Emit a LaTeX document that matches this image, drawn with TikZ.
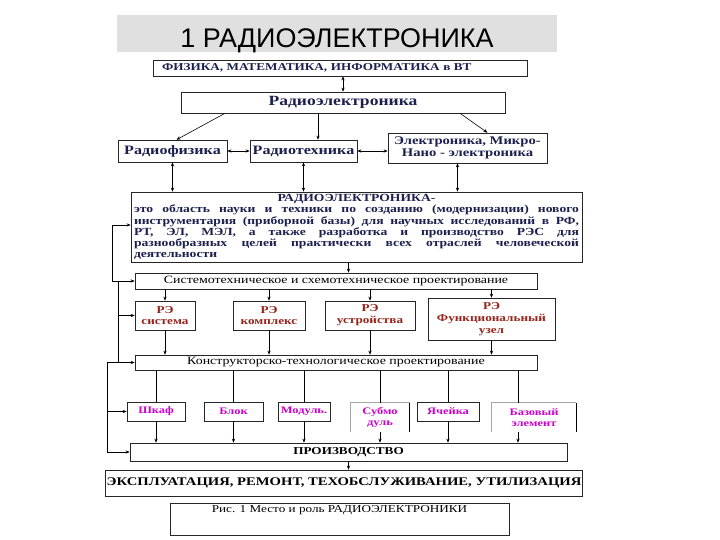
\documentclass[tikz,border=0pt]{standalone}
\usepackage{fontspec}
\setmainfont{Liberation Serif}[FakeStretch=1.25]
\newfontfamily\titlefont{Liberation Sans}
\usetikzlibrary{positioning,arrows.meta,calc}
\newlength\px
\setlength\px{0.03cm}
\definecolor{navytxt}{RGB}{28,32,78}
\definecolor{retxt}{RGB}{150,35,25}
\definecolor{magtxt}{RGB}{205,0,205}
\definecolor{titlegray}{RGB}{224,224,224}

\begin{document}
\begin{tikzpicture}[
  x=0.03cm, y=-0.03cm,
  >={Stealth[length=3.5pt,width=2.8pt]},
  box/.style={draw=black!85, line width=0.5pt, inner sep=1pt, align=center},
  scibox/.style={box, text=navytxt, font=\bfseries\fontsize{11}{11}\selectfont},
  rebox/.style={box, text=retxt, minimum height=29\px, font=\bfseries\fontsize{9}{10}\selectfont},
  lowbox/.style={box, text=magtxt, minimum height=19\px, font=\bfseries\fontsize{8.5}{10}\selectfont},
  openbox/.style={text=magtxt, minimum height=29\px, inner sep=1pt, align=center, font=\bfseries\fontsize{8.5}{10}\selectfont},
  conn/.style={->, line width=0.5pt},
  dbl/.style={<->, line width=0.5pt},
  feed/.style={line width=0.5pt}
]
  \useasboundingbox (0,0) rectangle (720,540);

  \node[fill=titlegray, minimum width=440\px, minimum height=37\px, inner ysep=0pt, text height=24.6pt, text depth=0pt, font=\titlefont\fontsize{23}{26}\selectfont] (title) at (337,33.5) {1 РАДИОЭЛЕКТРОНИКА};

  \node[box, minimum width=374\px, minimum height=16\px, text width=356\px, inner xsep=9\px, align=left, text=navytxt, font=\bfseries\fontsize{9}{10}\selectfont] (phys) at (340,68) {ФИЗИКА, МАТЕМАТИКА, ИНФОРМАТИКА в ВТ};
  \node[box, minimum width=324\px, minimum height=21\px, text=navytxt, font=\bfseries\fontsize{12}{12}\selectfont] (radio) at (343,102.5) {Радиоэлектроника};

  \node[scibox, minimum width=109\px, minimum height=22\px] (rfiz) at (172.5,151) {Радиофизика};
  \node[scibox, minimum width=107\px, minimum height=22\px] (rtech) at (303.5,151) {Радиотехника};
  \node[scibox, minimum width=159\px, minimum height=30\px, font=\bfseries\fontsize{10}{10}\selectfont] (elec) at (467.5,148) {Электроника, Микро-\\Нано - электроника};

  \node[box, minimum width=451\px, minimum height=70\px, text width=445\px, align=justify, text=navytxt, font=\bfseries\fontsize{9.3}{9.5}\selectfont] (defin) at (356.5,227) {{\centering РАДИОЭЛЕКТРОНИКА-\par}\noindent
    это область науки и техники по созданию (модернизации) нового\linebreak
    инструментария (приборной базы) для научных исследований в РФ,\linebreak
    РТ, ЭЛ, МЭЛ, а также разработка и производство РЭС для\linebreak
    разнообразных целей практически всех отраслей человеческой\linebreak
    деятельности};

  \node[box, minimum width=402\px, minimum height=16\px, font=\fontsize{9.5}{10}\selectfont] (sysd) at (336,281) {Системотехническое и схемотехническое проектирование};

  \node[rebox, minimum width=60\px] (resys) at (165,315.5) {РЭ\\система};
  \node[rebox, minimum width=72\px] (recomp) at (269,315.5) {РЭ\\комплекс};
  \node[rebox, minimum width=90\px] (redev) at (370,315.5) {РЭ\\устройства};
  \node[rebox, minimum width=127\px, minimum height=42\px] (refunc) at (491.5,319) {РЭ\\Функциональный\\узел};

  \node[box, minimum width=402\px, minimum height=15\px, font=\fontsize{9.5}{10}\selectfont] (cons) at (336,362.5) {Конструкторско-технологическое проектирование};

  \node[lowbox, minimum width=58\px] (shkaf) at (156,411.5) {Шкаф};
  \node[lowbox, minimum width=59\px] (blok) at (233.5,411.5) {Блок};
  \node[lowbox, minimum width=52\px] (modul) at (304,411.5) {Модуль.};
  \node[openbox, minimum width=59\px] (submod) at (380,417.5) {Субмо\\дуль};
  \node[lowbox, minimum width=62\px] (cell) at (448,411.5) {Ячейка};
  \node[openbox, minimum width=84\px] (base) at (534,417.5) {Базовый\\элемент};
  \draw[black!35, line width=0.5pt] (submod.south west) -- (submod.north west) -- (submod.north east);
  \draw[line width=0.5pt] (submod.north east) -- (submod.south east);
  \draw[black!35, line width=0.5pt] (base.south west) -- (base.north west) -- (base.north east);
  \draw[line width=0.5pt] (base.north east) -- (base.south east);

  \node[box, minimum width=437\px, minimum height=18\px, font=\bfseries\fontsize{9}{10}\selectfont] (prod) at (348.5,452) {ПРОИЗВОДСТВО};
  \node[box, minimum width=472\px, minimum height=26\px, font=\bfseries\fontsize{10}{11}\selectfont] (expl) at (344,483) {ЭКСПЛУАТАЦИЯ, РЕМОНТ, ТЕХОБСЛУЖИВАНИЕ, УТИЛИЗАЦИЯ};
  \node[box, minimum width=339\px, text height=8\px, text depth=22\px, font=\fontsize{9}{10}\selectfont] (capt) at (339.5,519) {Рис. 1 Место и роль РАДИОЭЛЕКТРОНИКИ};

  \draw[dbl] (phys.south -| radio.north) -- (radio.north);
  \coordinate (rtop) at ([xshift=-25\px]radio.south);
  \draw[conn] ([xshift=-118\px]radio.south) -- ([xshift=4\px]rfiz.north);
  \draw[conn] (rtop) -- (rtop |- rtech.north);
  \draw[conn] ([xshift=117\px]radio.south) -- ([xshift=20\px]elec.north);
  \draw[dbl] (rfiz.east) -- (rtech.west);
  \draw[dbl] (rtech.east) -- (rtech.east -| elec.west);
  \coordinate (ebot) at ([xshift=-10\px]elec.south);
  \draw[dbl] (rfiz.south) -- (rfiz.south |- defin.north);
  \draw[dbl] (rtech.south) -- (rtech.south |- defin.north);
  \draw[dbl] (ebot) -- (ebot |- defin.north);
  \coordinate (dbot) at ([xshift=-8\px]defin.south);
  \draw[conn] (dbot) -- (dbot |- sysd.north);

  \foreach \r in {resys,recomp,redev,refunc} {
    \draw[conn] (sysd.south -| \r.north) -- (\r.north);
    \draw[conn] (\r.south) -- (\r.south |- cons.north);
  }

  \foreach \b in {shkaf,blok,modul,submod,cell} {
    \draw[feed] (cons.south -| \b.north) -- (\b.north);
    \draw[conn] (\b.south) -- (\b.south |- prod.north);
  }
  \coordinate (baseln) at (518,0);
  \draw[feed] (cons.south -| baseln) -- (base.north -| baseln);
  \draw[conn] (base.south -| baseln) -- (prod.north -| baseln);
  \draw[conn] (prod.south) -- (prod.south |- expl.north);

  % feedback to the left
  \coordinate (fbtop) at (112,225);
  \coordinate (fbmid) at (112,281);
  \coordinate (fbjoin) at (118,281);
  \coordinate (fbre) at (118,315.5);
  \coordinate (fbcons) at (118,362.5);
  \coordinate (fblow) at (107,362.5);
  \coordinate (fbshk) at (107,411.5);
  \coordinate (fbprod) at (107,452);
  \draw[conn] (fbtop) -- (fbtop -| defin.west);
  \draw[feed] (fbtop) -- (fbmid);
  \draw[conn] (fbmid) -- (sysd.west);
  \draw[feed] (fbjoin) -- (fbcons);
  \draw[conn] (fbre) -- (resys.west);
  \draw[conn] (fblow) -- (cons.west);
  \draw[feed] (fblow) -- (fbprod);
  \draw[conn] (fbshk) -- (shkaf.west);
  \draw[conn] (fbprod) -- (prod.west);
\end{tikzpicture}
\end{document}
